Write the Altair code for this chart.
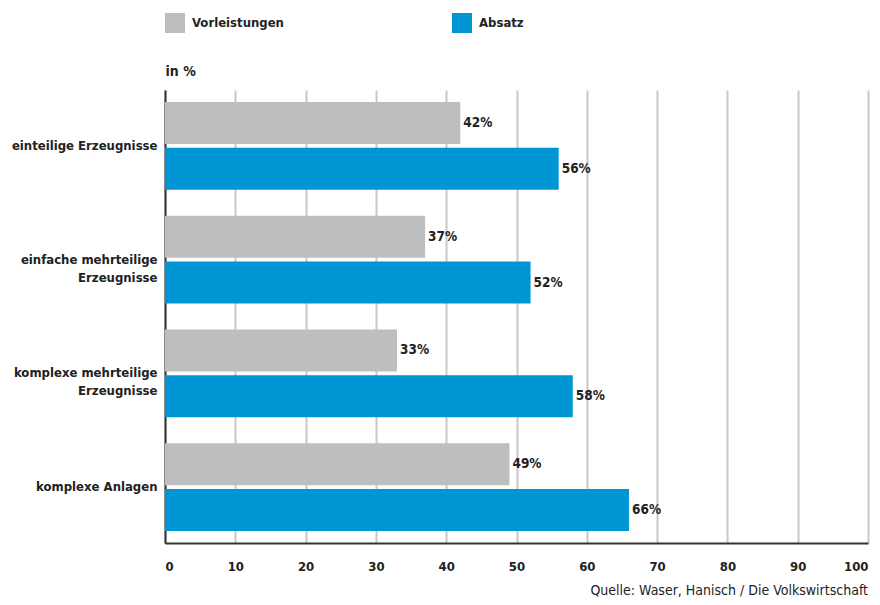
import altair as alt
import pandas as pd

categories = ["einteilige Erzeugnisse", "einfache mehrteilige\nErzeugnisse",
              "komplexe mehrteilige\nErzeugnisse", "komplexe Anlagen"]
series = ["Vorleistungen", "Absatz"]
vorleistungen = [42, 37, 33, 49]
absatz = [56, 52, 58, 66]
colors = ["#BDBEC0", "#0095D3"]
x_ticks = [0, 10, 20, 30, 40, 50, 60, 70, 80, 90, 100]

rows = []
for c, v, a in zip(categories, vorleistungen, absatz):
    rows.append({"cat": c, "series": series[0], "value": v, "label": f"{v}%"})
    rows.append({"cat": c, "series": series[1], "value": a, "label": f"{a}%"})
df = pd.DataFrame(rows)

FONT = "'Liberation Sans Narrow', 'DejaVu Sans Condensed', 'Open Sans', sans-serif"
TXT = "#222222"

y_enc = alt.Y("cat:N", sort=categories,
              scale=alt.Scale(paddingInner=0.228, paddingOuter=0.105),
              axis=alt.Axis(title="in %", titleAngle=0, titleX=0, titleY=-15,
                            titleAlign="left", titleBaseline="alphabetic",
                            titleFont=FONT, titleFontSize=14, titleFontWeight="bold",
                            titleColor=TXT,
                            labelExpr="split(datum.label, '\\n')",
                            labelFont=FONT, labelFontSize=13, labelFontWeight="bold",
                            labelColor=TXT, labelLineHeight=18, labelPadding=8,
                            labelLimit=300, ticks=False, domainColor="#333333",
                            domainWidth=2, grid=False))
yoff = alt.YOffset("series:N", sort=series,
                   scale=alt.Scale(domain=series, paddingInner=0.087, paddingOuter=0))

x_enc = alt.X("value:Q", scale=alt.Scale(domain=[0, 100], nice=False),
              axis=alt.Axis(title=None, values=x_ticks, ticks=False, labelPadding=17,
                            labelFont=FONT, labelFontSize=13, labelFontWeight="bold",
                            labelColor=TXT, domainColor="#333333", domainWidth=2,
                            gridColor="#C8C8C8", gridWidth=2))

bars = alt.Chart(df).mark_bar(size=42).encode(
    x=x_enc, y=y_enc, yOffset=yoff,
    color=alt.Color("series:N", sort=series,
                    scale=alt.Scale(domain=series, range=colors),
                    legend=alt.Legend(title=None, orient="none", legendX=0, legendY=-77,
                                      direction="horizontal", symbolType="square",
                                      symbolSize=400, symbolStrokeWidth=0,
                                      labelFont=FONT, labelFontSize=13,
                                      labelFontWeight="bold", labelColor=TXT,
                                      labelOffset=7, columnPadding=168, padding=0)),
)

labels = alt.Chart(df).mark_text(align="left", baseline="middle", dx=3,
                                 font=FONT, fontSize=13.5, fontWeight="bold",
                                 color=TXT).encode(
    x="value:Q", y=alt.Y("cat:N", sort=categories), yOffset=yoff, text="label:N"
)

chart = alt.layer(bars, labels).properties(
    width=703, height=453,
    autosize=alt.AutoSizeParams(type="none"),
    padding={"left": 157, "top": 82, "right": 4, "bottom": 54},
    title=alt.TitleParams("Quelle: Waser, Hanisch / Die Volkswirtschaft",
                          orient="bottom", anchor="end", frame="group",
                          font=FONT, fontSize=14, fontWeight="normal", color=TXT,
                          offset=11),
).configure_view(stroke=None)

chart.save("out.html", embed_options={"renderer": "svg", "actions": False})
